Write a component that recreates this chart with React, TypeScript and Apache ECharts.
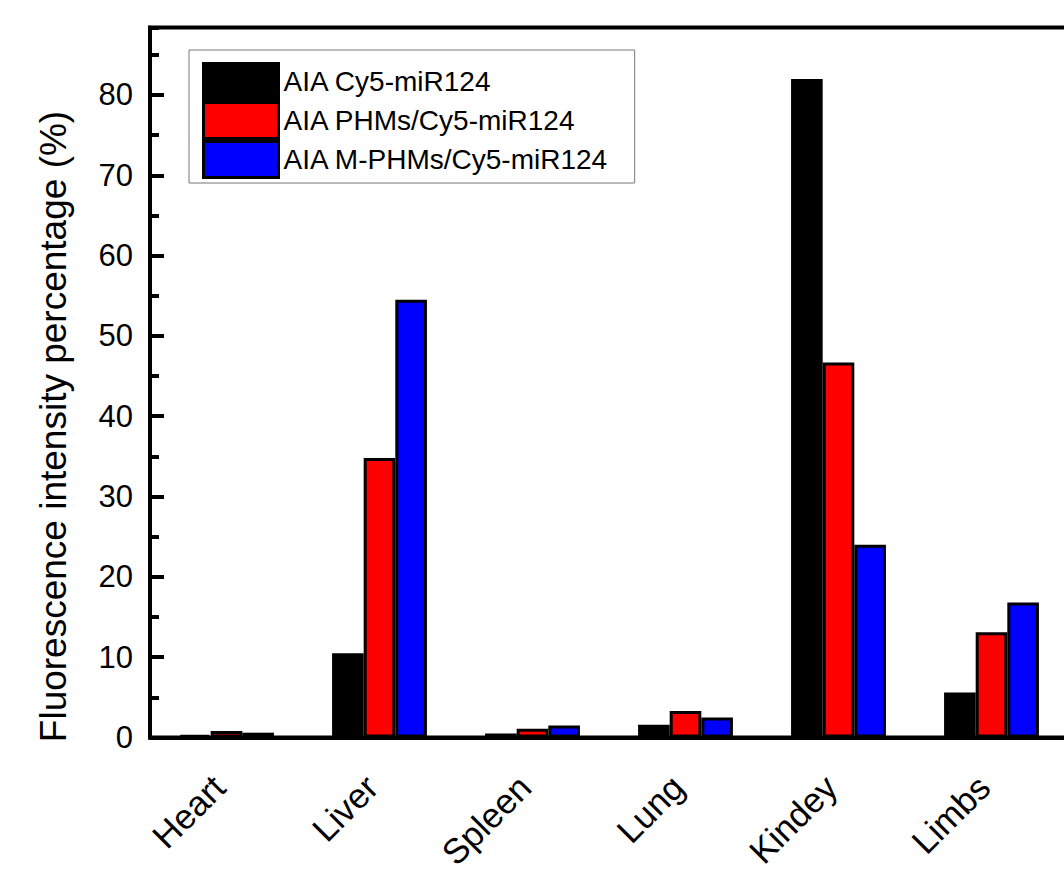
import React, { useEffect, useRef } from "react";
import * as echarts from "echarts";

const categories = ["Heart", "Liver", "Spleen", "Lung", "Kindey", "Limbs"];
const seriesNames = ["AIA Cy5-miR124", "AIA PHMs/Cy5-miR124", "AIA M-PHMs/Cy5-miR124"];
const cy5Values = [0.3, 10.5, 0.5, 1.6, 82.0, 5.6];
const phmsValues = [0.8, 34.8, 1.1, 3.3, 46.7, 13.1];
const mphmsValues = [0.6, 54.5, 1.5, 2.5, 24.0, 16.8];
const seriesColors = ["#000000", "#ff0000", "#0000ff"];
const yTitle = "Fluorescence intensity percentage (%)";

const FONT = "'Liberation Sans', Arial, Helvetica, sans-serif";

export default function App() {
  const ref = useRef<HTMLDivElement>(null);
  useEffect(() => {
    if (!ref.current) return;
    const chart = echarts.init(ref.current, undefined, { renderer: "svg" });
    const values = [cy5Values, phmsValues, mphmsValues];
    chart.setOption({
      animation: false,
      backgroundColor: "#ffffff",
      textStyle: { fontFamily: FONT, color: "#000" },
      grid: {
        left: 150,
        top: 27.5,
        right: -4,
        bottom: 137.5,
        containLabel: false,
        outerBoundsMode: "none",
        show: true,
        borderColor: "#000",
        borderWidth: 4,
        backgroundColor: "transparent",
      },
      legend: {
        orient: "vertical",
        left: 189,
        top: 50,
        padding: [12, 26, 4, 13],
        itemWidth: 75,
        itemHeight: 36,
        itemGap: 0,
        borderColor: "#777",
        borderWidth: 1,
        icon: "rect",
        textStyle: { fontFamily: FONT, fontSize: 28, color: "#000" },
        itemStyle: { borderColor: "#000", borderWidth: 3 },
        data: seriesNames,
      },
      xAxis: {
        type: "category",
        data: categories,
        axisLine: { show: true, lineStyle: { color: "#000", width: 4 } },
        axisTick: { show: false },
        axisLabel: {
          rotate: 45,
          margin: 36,
          fontSize: 35,
          padding: [0, 11, 0, 0],
          fontFamily: FONT,
          color: "#000",
        },
        splitLine: { show: false },
      },
      yAxis: [
        {
          type: "value",
          min: 0,
          max: 88.4,
          interval: 10,
          name: yTitle,
          nameLocation: "middle",
          nameGap: 78,
          nameTextStyle: { fontSize: 37, fontFamily: FONT, color: "#000", padding: [0, 88, 0, 0] },
          axisLine: { show: true, lineStyle: { color: "#000", width: 4 } },
          axisTick: { show: true, inside: true, length: 14, lineStyle: { color: "#000", width: 4 } },
          axisLabel: { fontSize: 31, fontFamily: FONT, color: "#000", margin: 17, showMaxLabel: false },
          splitLine: { show: false },
        },
        {
          type: "value",
          position: "left",
          min: 0,
          max: 88.4,
          interval: 5,
          axisLine: { show: false },
          axisTick: { show: true, inside: true, length: 9, lineStyle: { color: "#000", width: 4 } },
          axisLabel: { show: false },
          splitLine: { show: false },
        },
      ],
      series: seriesNames.map((name, i) => ({
        name,
        type: "bar",
        yAxisIndex: 0,
        data: values[i],
        barGap: "0%",
        barCategoryGap: "38%",
        itemStyle: { color: seriesColors[i], borderColor: "#000", borderWidth: 3 },
      })),
    });
    return () => chart.dispose();
  }, []);
  return (
    <div
      ref={ref}
      style={{ position: "fixed", left: 0, top: 0, width: 1064, height: 875, background: "#fff" }}
    />
  );
}
